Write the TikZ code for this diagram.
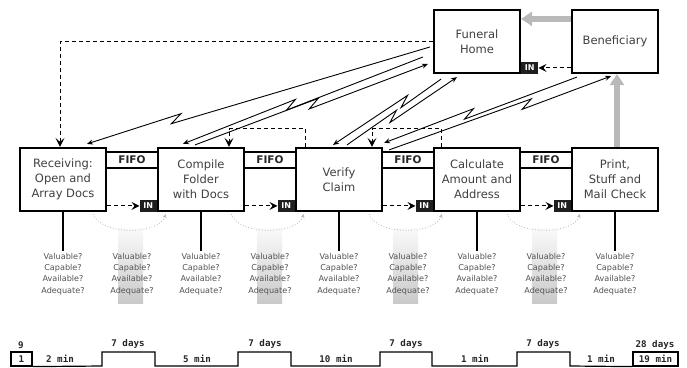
\documentclass[tikz,border=0pt]{standalone}
\usepackage{fontspec}
\setmainfont{DejaVu Sans}
\newfontfamily\tlfont{DejaVu Sans Mono}
\usetikzlibrary{arrows.meta,calc}

% electronic information flow: straight line with a lightning jog
\newcommand\zap[4][]{%
  \draw[zapline,#1] (#2) -- ($(#2)!#4!(#3)!6pt!(#3)!3.5pt!90:(#3)$)
    -- ($(#2)!#4!(#3)!-6pt!(#3)!3.5pt!-90:(#3)$) -- (#3);}

\tikzset{
  procbox/.style={draw, line width=2.2pt, fill=white, minimum width=86pt,
    minimum height=63pt, inner sep=1pt, align=center, text=black!75,
    font=\fontsize{11.5}{15}\selectfont},
  fifolbl/.style={font=\bfseries\fontsize{10.5}{12}\selectfont, text=black!85},
  fifoline/.style={line width=1.2pt},
  inbox/.style={fill=black!88, text=white, font=\bfseries\fontsize{8}{8}\selectfont,
    inner sep=0pt, minimum width=17pt, minimum height=12pt},
  ques/.style={align=center, text=black!68, font=\fontsize{8.1}{11.4}\selectfont},
  zapline/.style={line width=0.9pt, -{Stealth[length=6pt,width=5pt]}},
  dasharrow/.style={line width=1pt, dash pattern=on 4pt off 3pt,
    -{Stealth[length=9pt,width=9pt,inset=4pt]}},
  inarrow/.style={line width=1pt, dash pattern=on 4pt off 3pt,
    -{Stealth[length=8pt,width=8pt,inset=3pt]}},
  pusharc/.style={gray!55, line width=0.8pt, dotted, -{Stealth[length=4pt,width=4pt]}},
  bigarrow/.style={draw=gray!55, line width=6pt, -{Triangle[length=11pt,width=14pt]}},
  stem/.style={line width=2pt},
  bar/.style={top color=gray!4, bottom color=gray!42},
  tl/.style={line width=1.2pt},
  tltext/.style={font=\tlfont\bfseries\fontsize{9.2}{9}\selectfont, text=black!85},
  tlbox/.style={draw, line width=1.2pt, minimum height=14pt, inner sep=0pt,
    font=\tlfont\bfseries\fontsize{9.2}{9}\selectfont, text=black!85},
}

\begin{document}
\begin{tikzpicture}[x=1pt,y=-1pt]
\useasboundingbox (0,0) rectangle (687,367);

% supermarket shading under the inventory points
\foreach \bx in {118,257,393,532} { \shade[bar] (\bx,228) rectangle ++(25,75); }

% process boxes
\node[procbox] (rec)   at (63,179.5)  {Receiving:\\Open and\\Array Docs};
\node[procbox] (comp)  at (201,179.5) {Compile\\Folder\\with Docs};
\node[procbox] (ver)   at (339,179.5) {Verify\\Claim};
\node[procbox] (calcb) at (477,179.5) {Calculate\\Amount and\\Address};
\node[procbox] (prn)   at (615,179.5) {Print,\\Stuff and\\Mail Check};
\node[procbox] (fh)    at (477,41.5)  {Funeral\\Home};
\node[procbox] (ben)   at (615,41.5)  {Beneficiary};

% FIFO lanes between processes
\foreach \pa/\pb/\nm in {rec/comp/f1, comp/ver/f2, ver/calcb/f3, calcb/prn/f4} {
  \draw[fifoline] ($(\pa.north east)+(0,5)$) -- ($(\pb.north west)+(0,5)$);
  \draw[fifoline] ($(\pa.north east)+(0,21)$) -- ($(\pb.north west)+(0,21)$);
  \node[fifolbl] (\nm) at ($(\pa.north east)!0.5!(\pb.north west)+(0,13)$) {FIFO};
}

% push arcs
\foreach \pa/\pb in {rec/comp, comp/ver, ver/calcb, calcb/prn} {
  \draw[pusharc] ($(\pa.south east)+(-14,2)$) to[out=-70,in=-110,looseness=0.8]
    ($(\pb.south west)+(9,2)$);
}

% inboxes and their dashed feeds
\foreach \pa/\pb/\nm in {rec/comp/in1, comp/ver/in2, ver/calcb/in3, calcb/prn/in4} {
  \node[inbox, anchor=south east] (\nm) at (\pb.south west) {IN};
  \draw[inarrow] (\pa.east |- \nm.west) -- (\nm.west);
}
\node[inbox, anchor=south west] (infh) at (fh.south east) {IN};
\draw[inarrow] (ben.west |- infh.east) -- (infh.east);

% stems down to the questions
\foreach \pb in {rec,comp,ver,calcb,prn} { \draw[stem] (\pb.south) -- ++(0,39); }

\foreach \qx [count=\i] in {63,132,201,270,339,408,477,546,615} {
  \node[ques] (q\i) at (\qx,274) {Valuable?\\Capable?\\Available?\\Adequate?};
}

% physical flows (wide gray arrows)
\draw[bigarrow] ($(ben.north west)+(0,10)$) -- ($(fh.north east)+(0,10)$);
\draw[bigarrow] ($(prn.north)+(2,0)$) -- ($(ben.south)+(2,0)$);

% dashed manual information flows
\draw[dasharrow] (fh.west) -| ($(rec.north)+(-3,0)$);
\draw[dasharrow] ($(ver.north west)+(11,0)$) -- ++(0,-18) -| ($(comp.north)+(28,0)$);
\draw[dasharrow] ($(calcb.north west)+(9,0)$) -- ++(0,-18) -| ($(ver.north)+(33,0)$);

% electronic information flows
\coordinate (s1) at ($(fh.west)+(-3,5.5)$);   \coordinate (e1) at ($(rec.north)+(24,-3)$);
\coordinate (s2) at ($(fh.west)+(-10,15.5)$); \coordinate (e2) at ($(comp.north)+(-18,-3)$);
\coordinate (s3) at ($(comp.north)+(-6,-2)$); \coordinate (e3) at ($(fh.west)+(-5,22.5)$);
\coordinate (s4) at ($(fh.south)+(-36,5)$);   \coordinate (e4) at ($(ver.north)+(-6,-2)$);
\coordinate (s5) at ($(ver.north)+(8,-2)$);   \coordinate (e5) at ($(fh.south)+(-20,3)$);
\coordinate (s6) at ($(ben.south west)+(6,3)$); \coordinate (e6) at ($(ver.north east)+(1,-4)$);
\coordinate (s7) at ($(ver.north east)+(6,3)$); \coordinate (e7) at ($(ben.south)+(-4,2)$);
\zap{s1}{e1}{0.74}
\zap{s2}{e2}{0.55}
\zap{s3}{e3}{0.51}
\zap{s4}{e4}{0.34}
\zap{s5}{e5}{0.42}
\zap{s6}{e6}{0.56}
\zap{s7}{e7}{0.62}

% timeline
\node[tlbox, minimum width=21pt] (t1) at (21.5,359) {1};
\node[tlbox, minimum width=45pt] (t19) at (655.5,359) {19 min};
\draw[tl] (t1.south east) -- (102,366) -- (102,352) -- (155,352) -- (155,366)
  -- (238,366) -- (238,352) -- (291,352) -- (291,366)
  -- (380,366) -- (380,352) -- (432,352) -- (432,366)
  -- (517,366) -- (517,352) -- (570,352) -- (570,366) -- (t19.south west);
\node[tltext] (t9)  at (21,345)  {9};
\node[tltext] (t28) at (655,345) {28 days};
\node[tltext] (d1)  at (128,344) {7 days};
\node[tltext] (d2)  at (265,344) {7 days};
\node[tltext] (d3)  at (406,344) {7 days};
\node[tltext] (d4)  at (543,344) {7 days};
\node[tltext] (m1)  at (60,359)  {2 min};
\node[tltext] (m2)  at (197,359) {5 min};
\node[tltext] (m3)  at (336,359) {10 min};
\node[tltext] (m4)  at (475,359) {1 min};
\node[tltext] (m5)  at (601,359) {1 min};
\end{tikzpicture}
\end{document}
